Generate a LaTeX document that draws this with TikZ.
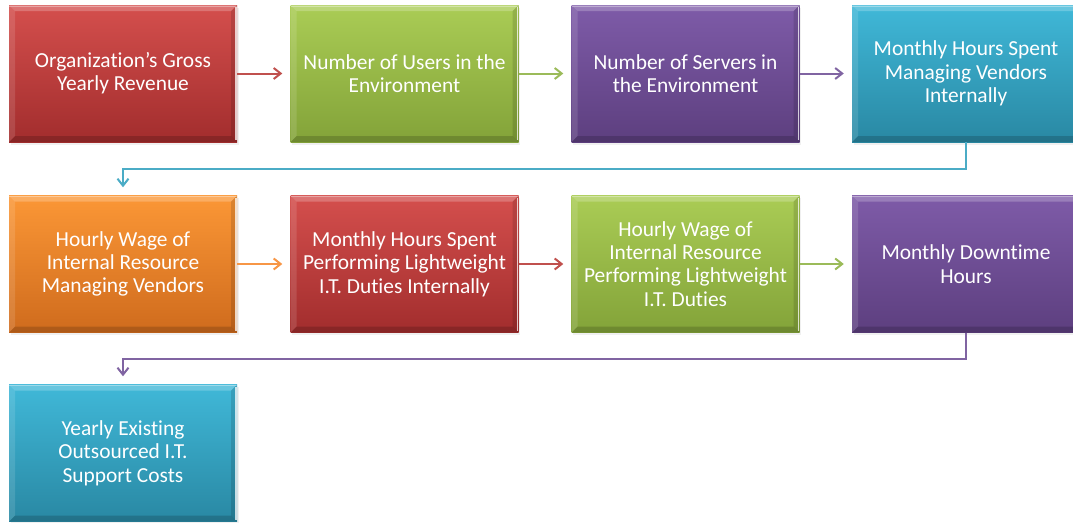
\documentclass[tikz,border=0pt]{standalone}
\usepackage{fontspec}
\setmainfont{Carlito}[Ligatures=NoCommon]
\usetikzlibrary{calc,arrows.meta,shadows}

% fill gradients (top / bottom) and connector colours
\definecolor{redT}{HTML}{D44F4D}
\definecolor{redB}{HTML}{A22D2D}
\definecolor{greenT}{HTML}{AACC55}
\definecolor{greenB}{HTML}{83A339}
\definecolor{purpleT}{HTML}{7E5BA8}
\definecolor{purpleB}{HTML}{5D3F7F}
\definecolor{aquaT}{HTML}{40B8D8}
\definecolor{aquaB}{HTML}{2988A3}
\definecolor{orangeT}{HTML}{FB9736}
\definecolor{orangeB}{HTML}{CF6B1D}
\definecolor{redL}{HTML}{C0504D}
\definecolor{greenL}{HTML}{9BBB59}
\definecolor{purpleL}{HTML}{8064A2}
\definecolor{aquaL}{HTML}{4BACC6}
\definecolor{orangeL}{HTML}{F79646}

\tikzset{
  bevelbox/.style 2 args={
    draw=none, inner sep=0pt,
    minimum width=228pt, minimum height=137pt,
    top color=#1, bottom color=#2,
    text=white, align=center,
    font=\fontsize{21.4}{23.3}\selectfont,
    drop shadow={opacity=0.12, shadow xshift=1.5pt, shadow yshift=-2.5pt},
    path picture={
      % top bevel
      \fill[white,opacity=0.22]
        (path picture bounding box.north west) -- (path picture bounding box.north east)
        -- ([shift={(-6pt,-6pt)}]path picture bounding box.north east)
        -- ([shift={(6pt,-6pt)}]path picture bounding box.north west) -- cycle;
      \draw[white,opacity=0.35,line width=1pt]
        ([yshift=-1pt]path picture bounding box.north west) -- ([yshift=-1pt]path picture bounding box.north east);
      % left bevel
      \fill[white,opacity=0.12]
        (path picture bounding box.north west) -- (path picture bounding box.south west)
        -- ([shift={(6pt,6pt)}]path picture bounding box.south west)
        -- ([shift={(6pt,-6pt)}]path picture bounding box.north west) -- cycle;
      % right bevel with light rim
      \fill[black,opacity=0.12]
        (path picture bounding box.north east) -- (path picture bounding box.south east)
        -- ([shift={(-6pt,6pt)}]path picture bounding box.south east)
        -- ([shift={(-6pt,-6pt)}]path picture bounding box.north east) -- cycle;
      \draw[white,opacity=0.75,line width=1.4pt]
        ([shift={(-1pt,-2pt)}]path picture bounding box.north east) -- ([shift={(-1pt,2pt)}]path picture bounding box.south east);
      % bottom bevel
      \fill[black,opacity=0.16]
        (path picture bounding box.south west) -- (path picture bounding box.south east)
        -- ([shift={(-6pt,6pt)}]path picture bounding box.south east)
        -- ([shift={(6pt,6pt)}]path picture bounding box.south west) -- cycle;
    }
  },
  conn/.style={line width=2pt, shorten >=8pt,
    -{Straight Barb[length=7pt,width=11pt,line width=2pt]}},
}

\begin{document}
\begin{tikzpicture}[x=1pt,y=-1pt]
\useasboundingbox (0,0) rectangle (1073,522);
\clip (0,0) rectangle (1073,522);

% first row
\node[bevelbox={redT}{redB}]       (b1) at (123,73.5)   {Organization’s Gross\\Yearly Revenue};
\node[bevelbox={greenT}{greenB}]   (b2) at (404.5,73.5) {Number of Users in the\\Environment};
\node[bevelbox={purpleT}{purpleB}] (b3) at (685.5,73.5) {Number of Servers in\\the Environment};
\node[bevelbox={aquaT}{aquaB}]     (b4) at (966,73.5)   {Monthly Hours Spent\\Managing Vendors\\Internally};

% second row
\node[bevelbox={orangeT}{orangeB}] (b5) at (123,264)    {Hourly Wage of\\Internal Resource\\Managing Vendors};
\node[bevelbox={redT}{redB}]       (b6) at (404.5,264)  {Monthly Hours Spent\\Performing Lightweight\\I.T. Duties Internally};
\node[bevelbox={greenT}{greenB}]   (b7) at (685.5,264)  {Hourly Wage of\\Internal Resource\\Performing Lightweight\\I.T. Duties};
\node[bevelbox={purpleT}{purpleB}] (b8) at (966,264)    {Monthly Downtime\\Hours};

% third row
\node[bevelbox={aquaT}{aquaB}]     (b9) at (123,453)    {Yearly Existing\\Outsourced I.T.\\Support Costs};

% connectors
\draw[conn, redL]    (b1.east) -- (b2.west);
\draw[conn, greenL]  (b2.east) -- (b3.west);
\draw[conn, purpleL] (b3.east) -- (b4.west);
\draw[conn, aquaL]   (b4.south) -- ++(0,27) -| (b5.north);
\draw[conn, orangeL] (b5.east) -- (b6.west);
\draw[conn, redL]    (b6.east) -- (b7.west);
\draw[conn, greenL]  (b7.east) -- (b8.west);
\draw[conn, purpleL] (b8.south) -- ++(0,26) -| (b9.north);
\end{tikzpicture}
\end{document}
